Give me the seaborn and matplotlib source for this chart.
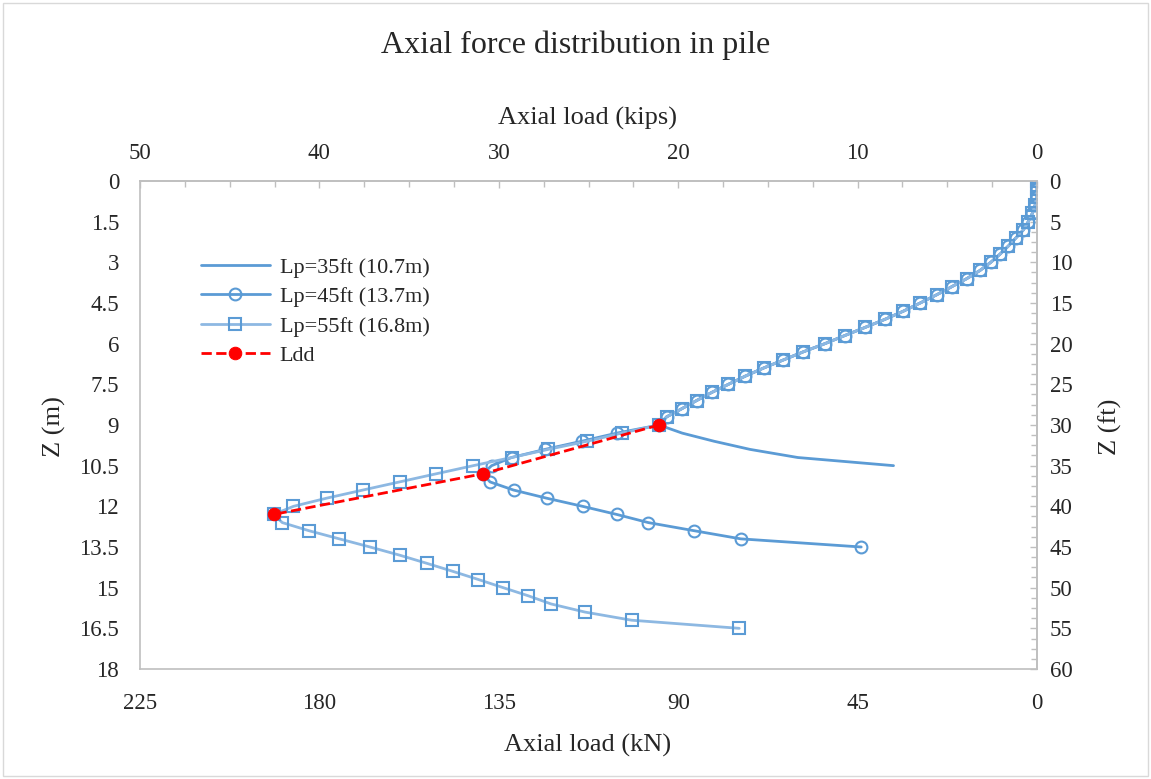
import numpy as np
import pandas as pd
import seaborn as sns
import matplotlib.pyplot as plt
from matplotlib.patches import Rectangle
from matplotlib.ticker import MultipleLocator, FixedLocator

# common upper part (same for the three piles), depth in m / load in kN
z_top = [0.0, 0.3, 0.6, 0.9, 1.2, 1.5, 1.8, 2.1, 2.4, 2.7, 3.0, 3.3, 3.6, 3.9, 4.2, 4.5,
         4.8, 5.1, 5.4, 5.7, 6.0, 6.3, 6.6, 6.9, 7.2, 7.5, 7.8, 8.1, 8.4, 8.7, 9.0]
q_top = [0.0, 0.0, 0.1, 0.5, 1.2, 2.2, 3.4, 5.3, 7.2, 9.3, 11.6, 14.3, 17.6, 21.4, 25.2, 29.3,
         33.5, 38.1, 43.1, 48.2, 53.2, 58.6, 63.6, 68.6, 73.2, 77.4, 81.6, 85.4, 89.1, 92.9, 94.8]

# lower parts of each pile
z_35 = [9.3, 9.6, 9.9, 10.2, 10.5]
q_35 = [89.0, 81.0, 72.0, 60.0, 36.0]

z_45 = [9.3, 9.6, 9.9, 10.2, 10.5, 10.8, 11.1, 11.4, 11.7, 12.0, 12.3, 12.6, 12.9, 13.2, 13.5]
q_45 = [105.4, 114.2, 123.4, 131.8, 136.8, 139.0, 137.2, 131.3, 123.0, 114.0, 105.4, 97.5,
        86.0, 74.3, 44.1]

z_55 = [9.3, 9.6, 9.9, 10.2, 10.5, 10.8, 11.1, 11.4, 11.7, 12.0, 12.3, 12.6, 12.9, 13.2,
        13.5, 13.8, 14.1, 14.4, 14.7, 15.0, 15.3, 15.6, 15.9, 16.2, 16.5]
q_55 = [104.2, 112.9, 122.6, 131.8, 141.4, 150.7, 159.9, 169.1, 178.2, 186.5, 191.5, 189.3,
        182.6, 175.0, 167.3, 159.9, 153.1, 146.5, 140.1, 133.9, 127.6, 121.9, 113.4, 101.7, 74.7]

# neutral plane points (Ldd)
z_ldd = [9.0, 10.8, 12.3]
q_ldd = [94.8, 139.0, 191.5]

labels = ['Lp=35ft (10.7m)', 'Lp=45ft (13.7m)', 'Lp=55ft (16.8m)', 'Ldd']

kn_ticks = [225, 180, 135, 90, 45, 0]
kip_ticks = [50, 40, 30, 20, 10, 0]
m_ticks = [0, 1.5, 3, 4.5, 6, 7.5, 9, 10.5, 12, 13.5, 15, 16.5, 18]
ft_ticks = [0, 5, 10, 15, 20, 25, 30, 35, 40, 45, 50, 55, 60]

df35 = pd.DataFrame({'q': q_top + q_35, 'z': z_top + z_35})
df45 = pd.DataFrame({'q': q_top + q_45, 'z': z_top + z_45})
df55 = pd.DataFrame({'q': q_top + q_55, 'z': z_top + z_55})
dfldd = pd.DataFrame({'q': q_ldd, 'z': z_ldd})

sns.set_style('white')
plt.rcParams['font.family'] = ['Liberation Serif', 'DejaVu Serif']

fig = plt.figure(figsize=(11.51, 7.79), dpi=100)
ax = fig.add_axes([0.1216, 0.1412, 0.7794, 0.6265])

blue = '#5B9BD5'
light = '#8DB8E2'

sns.lineplot(data=df35, x='q', y='z', sort=False, estimator=None, ax=ax,
             color=blue, lw=2.0, label=labels[0])
sns.lineplot(data=df45, x='q', y='z', sort=False, estimator=None, ax=ax,
             color=blue, lw=2.0, marker='o', ms=8.5, mfc='none', mec=blue, mew=1.5,
             label=labels[1])
sns.lineplot(data=df55, x='q', y='z', sort=False, estimator=None, ax=ax,
             color=light, lw=2.0, marker='s', ms=8, mfc='none', mec=blue, mew=1.5,
             label=labels[2])
sns.lineplot(data=dfldd, x='q', y='z', sort=False, estimator=None, ax=ax,
             color='#FF0000', lw=2.0, ls='--', marker='o', ms=9, mfc='#FF0000',
             mec='#FF0000', label=labels[3])

ax.set_xlim(225, 0)
ax.set_ylim(18, 0)
ax.xaxis.set_major_locator(FixedLocator(kn_ticks))
ax.xaxis.set_minor_locator(MultipleLocator(11.25))
ax.yaxis.set_major_locator(FixedLocator(m_ticks))
ax.yaxis.set_minor_locator(MultipleLocator(0.375))
ax.yaxis.set_major_formatter(plt.FuncFormatter(lambda v, p: f'{v:g}'))
ax.set_xlabel('')
ax.set_ylabel('')

top = ax.secondary_xaxis('top', functions=(lambda x: x / 4.5, lambda x: x * 4.5))
right = ax.secondary_yaxis('right', functions=(lambda y: y * 10 / 3, lambda y: y * 0.3))
top.xaxis.set_major_locator(FixedLocator(kip_ticks))
top.xaxis.set_minor_locator(FixedLocator([k * 2.5 for k in range(21)]))
right.yaxis.set_major_locator(FixedLocator(ft_ticks))
right.yaxis.set_minor_locator(FixedLocator([k * 1.25 for k in range(49)]))

grey = '#BFBFBF'
for a in (ax, top, right):
    for s in a.spines.values():
        s.set_color(grey)
        s.set_linewidth(1.2)
    a.tick_params(which='major', direction='in', length=5, width=1, color=grey,
                  labelsize=16.5)
    a.tick_params(which='minor', direction='in', length=4, width=1, color=grey)

ax.tick_params(axis='x', pad=17)
ax.tick_params(axis='y', pad=15)
top.tick_params(axis='x', pad=12)
right.tick_params(axis='y', pad=9)

fig.text(588 / 1151, 1 - 745 / 779, 'Axial load (kN)', ha='center', va='center', fontsize=19)
fig.text(588 / 1151, 1 - 118 / 779, 'Axial load (kips)', ha='center', va='center', fontsize=19)
fig.text(54 / 1151, 1 - 427 / 779, 'Z (m)', ha='center', va='center', rotation=90, fontsize=19)
fig.text(1110 / 1151, 1 - 427 / 779, 'Z (ft)', ha='center', va='center', rotation=90, fontsize=19)

ax.legend(loc='upper left', bbox_to_anchor=(0.058, 0.862), frameon=False, fontsize=16,
          handlelength=3.1, handletextpad=0.45, labelspacing=0.4, borderaxespad=0)

fig.text(0.5, 0.942, 'Axial force distribution in pile', ha='center', va='center', fontsize=23)
fig.patches.append(Rectangle((0.003, 0.004), 0.994, 0.992, transform=fig.transFigure,
                             fill=False, edgecolor='#D9D9D9', lw=1))

fig.savefig('out.png', dpi=100)
